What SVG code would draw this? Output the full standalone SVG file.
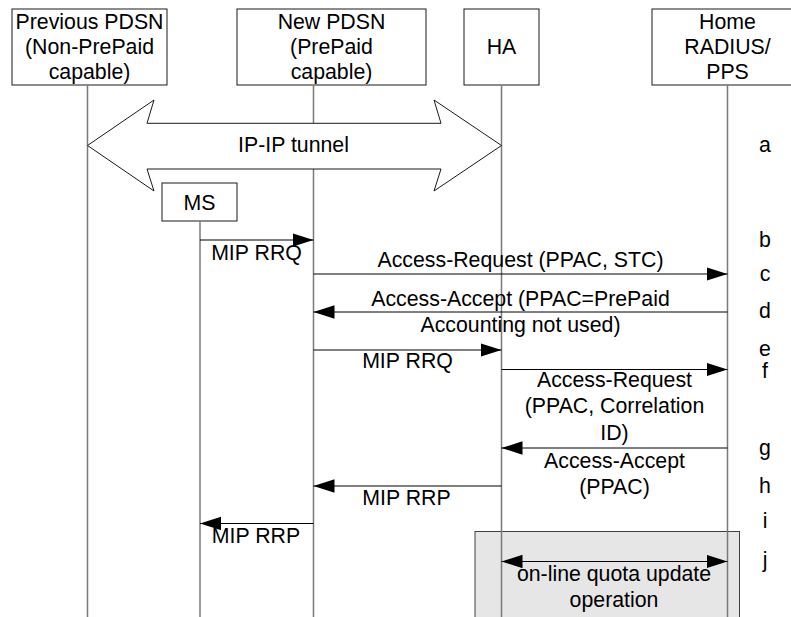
<svg xmlns="http://www.w3.org/2000/svg" width="791" height="617" viewBox="0 0 791 617">
<style>
  text { font-family: "Liberation Sans", Arial, sans-serif; font-size: 21.3px; fill: #000; text-anchor: middle; }
  .box { fill: #fff; stroke: #1a1a1a; stroke-width: 1; }
  .life { stroke: #7a7a7a; stroke-width: 1.5; fill: none; }
  .msg { stroke: #000; stroke-width: 1; fill: none; marker-end: url(#ah); }
  .tunnel { fill: #fff; stroke: #1a1a1a; stroke-width: 1; }
  .region { fill: #e6e6e6; stroke: #404040; stroke-width: 1; }
</style>
<defs>
  <marker id="ah" markerUnits="userSpaceOnUse" markerWidth="22" markerHeight="14" refX="21" refY="6.7" orient="auto-start-reverse">
    <path d="M0,0 L21,6.7 L0,13.4 z" fill="#000"/>
  </marker>
</defs>
<rect width="791" height="617" fill="#fff"/>

<!-- shaded region for on-line quota update -->
<rect id="quota-region" class="region" x="475" y="531.5" width="264.5" height="100"/>

<g id="prev-pdsn">
  <rect class="box" x="12" y="9" width="155" height="76"/>
  <line class="life" x1="87.5" y1="85" x2="87.5" y2="617"/>
  <text x="89.5" y="29.3">Previous PDSN</text>
  <text x="89.5" y="54">(Non-PrePaid</text>
  <text x="89.5" y="78.8">capable)</text>
</g>

<g id="new-pdsn">
  <rect class="box" x="237" y="9" width="189" height="76"/>
  <line class="life" x1="313.5" y1="85" x2="313.5" y2="617"/>
  <text x="331.5" y="29.3">New PDSN</text>
  <text x="331.5" y="54">(PrePaid</text>
  <text x="331.5" y="78.8">capable)</text>
</g>

<g id="ha">
  <rect class="box" x="464" y="9" width="75" height="76"/>
  <line class="life" x1="501.5" y1="85" x2="501.5" y2="617"/>
  <text x="501.5" y="54">HA</text>
</g>

<g id="home-radius">
  <rect class="box" x="652" y="9" width="152" height="76"/>
  <line class="life" x1="727.5" y1="85" x2="727.5" y2="617"/>
  <text x="727.5" y="29.3">Home</text>
  <text x="727.5" y="54">RADIUS/</text>
  <text x="727.5" y="78.8">PPS</text>
</g>

<g id="ms">
  <rect class="box" x="162" y="183" width="75" height="38"/>
  <line class="life" x1="200" y1="221" x2="200" y2="617"/>
  <text x="199.5" y="209.5">MS</text>
</g>

<g id="tunnel">
  <polygon class="tunnel" points="87.5,145.5 154,100 147,123.3 441,123.3 434,100 501.5,145.5 434,191 441,169 147,169 154,191"/>
  <text x="293.5" y="152">IP-IP tunnel</text>
</g>

<g id="connectors">
  <line class="msg" x1="200" y1="240" x2="313.5" y2="240"/>
  <line class="msg" x1="313.5" y1="274" x2="727.5" y2="274"/>
  <line class="msg" x1="727.5" y1="312" x2="313.5" y2="312"/>
  <line class="msg" x1="313.5" y1="350" x2="501.5" y2="350"/>
  <line class="msg" x1="501.5" y1="369.5" x2="727.5" y2="369.5"/>
  <line class="msg" x1="727.5" y1="448" x2="501.5" y2="448"/>
  <line class="msg" x1="501.5" y1="486" x2="313.5" y2="486"/>
  <line class="msg" x1="313.5" y1="523.5" x2="200" y2="523.5"/>
  <line class="msg" x1="501.5" y1="561.5" x2="727.5" y2="561.5" marker-start="url(#ah)"/>
</g>

<g id="labels">
  <text x="256.5" y="260">MIP RRQ</text>
  <text x="520.5" y="267">Access-Request (PPAC, STC)</text>
  <text x="520.5" y="306">Access-Accept (PPAC=PrePaid</text>
  <text x="520.5" y="331.5">Accounting not used)</text>
  <text x="407.5" y="368.3">MIP RRQ</text>
  <text x="614.5" y="387">Access-Request</text>
  <text x="614.5" y="413.3">(PPAC, Correlation</text>
  <text x="614.5" y="439.5">ID)</text>
  <text x="614.5" y="467.7">Access-Accept</text>
  <text x="614.5" y="494">(PPAC)</text>
  <text x="406.5" y="505">MIP RRP</text>
  <text x="256" y="542.7">MIP RRP</text>
  <text x="614" y="580.7">on-line quota update</text>
  <text x="614" y="606.5">operation</text>
</g>

<g id="step-letters">
  <text x="765" y="152">a</text>
  <text x="765" y="247">b</text>
  <text x="765" y="281">c</text>
  <text x="765" y="318">d</text>
  <text x="765" y="356">e</text>
  <text x="765" y="378">f</text>
  <text x="765" y="455">g</text>
  <text x="765" y="493">h</text>
  <text x="765" y="528">i</text>
  <text x="765" y="567">j</text>
</g>
</svg>
